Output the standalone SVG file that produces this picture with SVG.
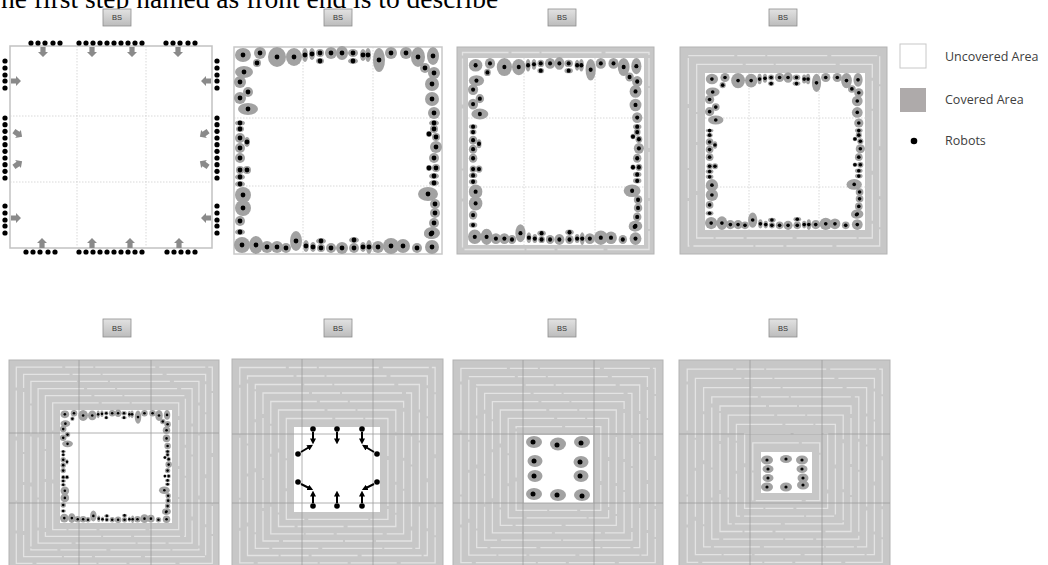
<svg xmlns="http://www.w3.org/2000/svg" xmlns:xlink="http://www.w3.org/1999/xlink" width="1048" height="565" viewBox="0 0 1048 565">
<style>
.bs rect{fill:url(#bsg);stroke:#8e8e8e;stroke-width:0.8}
.bs text{font-family:"Liberation Sans",Arial,sans-serif;font-size:7.5px;fill:#333;text-anchor:middle}
.band{fill:#c7c7c7;stroke:#b3b3b3;stroke-width:1}
.st{fill:none;stroke:#e3e3e3;stroke-width:1.3;stroke-dasharray:46 3 28 2 60 4}
.wh{fill:#fff}
.gd{stroke:#cfcfcf;stroke-width:0.8;stroke-dasharray:1.5 1.5;fill:none}
.gk{stroke:#9c9c9c;stroke-width:0.8;fill:none}
.blob{fill:#a2a2a2}
.dot{fill:#000}
.arw{fill:#8a8a8a}
.lg{font-family:"Open Sans","Liberation Sans",sans-serif;font-size:12.5px;fill:#404040}
.mv{stroke:#000;stroke-width:2;fill:none;marker-end:url(#ah)}
</style>
<defs>
<linearGradient id="bsg" x1="0" y1="0" x2="0" y2="1"><stop offset="0" stop-color="#e2e2e2"/><stop offset="1" stop-color="#bcbcbc"/></linearGradient>
<marker id="ah" viewBox="0 0 10 10" refX="6" refY="5" markerWidth="3" markerHeight="3" orient="auto"><path d="M0,0 L10,5 L0,10 z" fill="#000"/></marker>
<path id="blk" d="M-5,-2.6 H0 V-5 L5,0 L0,5 V2.6 H-5 Z"/>
<g id="ring">
<g class="blob">
<ellipse cx="10" cy="25" rx="9" ry="6"/><ellipse cx="6" cy="35" rx="6" ry="6"/><ellipse cx="14" cy="45" rx="5" ry="5"/><ellipse cx="6" cy="51" rx="6" ry="6"/><ellipse cx="14" cy="62" rx="10" ry="6"/><ellipse cx="6" cy="76" rx="5" ry="2.5"/><ellipse cx="6" cy="82" rx="4" ry="3"/><ellipse cx="6" cy="91" rx="5" ry="5"/><ellipse cx="13" cy="95" rx="3" ry="5"/><ellipse cx="6" cy="101" rx="5" ry="5"/><ellipse cx="6" cy="111" rx="5" ry="5"/><ellipse cx="6" cy="123" rx="4" ry="4"/><ellipse cx="13" cy="123" rx="4" ry="4"/><ellipse cx="6" cy="130" rx="5" ry="3"/><ellipse cx="6" cy="137" rx="5" ry="3"/><ellipse cx="9" cy="148" rx="8" ry="8"/><ellipse cx="9" cy="161" rx="8" ry="8"/><ellipse cx="6" cy="174" rx="5" ry="5"/><ellipse cx="6" cy="185" rx="5" ry="3"/>
<ellipse cx="9" cy="8" rx="8" ry="7"/><ellipse cx="26" cy="6" rx="6" ry="6"/><ellipse cx="23" cy="16" rx="4" ry="4"/><ellipse cx="43" cy="10" rx="9" ry="10"/><ellipse cx="60" cy="10" rx="8" ry="9"/><ellipse cx="71" cy="8" rx="3" ry="7"/><ellipse cx="78" cy="7" rx="3" ry="6"/><ellipse cx="86" cy="6" rx="4" ry="4"/><ellipse cx="86" cy="14" rx="4" ry="3"/><ellipse cx="97" cy="6" rx="6" ry="6"/><ellipse cx="108" cy="6" rx="6" ry="7"/><ellipse cx="119" cy="6" rx="5" ry="4"/><ellipse cx="119" cy="14" rx="5" ry="3"/><ellipse cx="129" cy="8" rx="3" ry="6"/><ellipse cx="134" cy="8" rx="3" ry="7"/><ellipse cx="145" cy="13" rx="6" ry="12"/><ellipse cx="157" cy="6" rx="6" ry="6"/><ellipse cx="172" cy="6" rx="6" ry="6"/><ellipse cx="184" cy="10" rx="7" ry="10"/><ellipse cx="199" cy="9" rx="6" ry="9"/><ellipse cx="191" cy="21" rx="5" ry="5"/><ellipse cx="200" cy="26" rx="6" ry="6"/>
<ellipse cx="198" cy="37" rx="7" ry="7"/><ellipse cx="198" cy="52" rx="7" ry="7"/><ellipse cx="200" cy="66" rx="6" ry="6"/><ellipse cx="200" cy="76" rx="5" ry="3"/><ellipse cx="200" cy="82" rx="4" ry="4"/><ellipse cx="195" cy="87" rx="3" ry="3"/><ellipse cx="202" cy="90" rx="4" ry="4"/><ellipse cx="202" cy="100" rx="6" ry="6"/><ellipse cx="200" cy="111" rx="5" ry="5"/><ellipse cx="195" cy="121" rx="3" ry="3"/><ellipse cx="202" cy="121" rx="4" ry="4"/><ellipse cx="200" cy="129" rx="5" ry="3"/><ellipse cx="200" cy="136" rx="5" ry="3"/><ellipse cx="194" cy="147" rx="10" ry="7"/><ellipse cx="201" cy="157" rx="5" ry="5"/><ellipse cx="201" cy="166" rx="5" ry="5"/><ellipse cx="200" cy="176" rx="5" ry="5"/><ellipse cx="198" cy="186" rx="8" ry="6"/>
<ellipse cx="8" cy="198" rx="8" ry="8"/><ellipse cx="22" cy="198" rx="7" ry="9"/><ellipse cx="33" cy="200" rx="6" ry="6"/><ellipse cx="43" cy="200" rx="6" ry="6"/><ellipse cx="52" cy="201" rx="5" ry="5"/><ellipse cx="62" cy="194" rx="6" ry="10"/><ellipse cx="72" cy="199" rx="3" ry="6"/><ellipse cx="79" cy="200" rx="3" ry="5"/><ellipse cx="87" cy="194" rx="5" ry="3"/><ellipse cx="87" cy="201" rx="4" ry="4"/><ellipse cx="97" cy="201" rx="5" ry="5"/><ellipse cx="108" cy="201" rx="6" ry="6"/><ellipse cx="120" cy="193" rx="5" ry="3"/><ellipse cx="120" cy="201" rx="5" ry="5"/><ellipse cx="129" cy="200" rx="3" ry="5"/><ellipse cx="135" cy="200" rx="3" ry="7"/><ellipse cx="144" cy="200" rx="6" ry="6"/><ellipse cx="157" cy="199" rx="8" ry="8"/><ellipse cx="169" cy="199" rx="7" ry="7"/><ellipse cx="183" cy="201" rx="5" ry="5"/><ellipse cx="198" cy="200" rx="7" ry="7"/><ellipse cx="197" cy="187" rx="7" ry="5"/>
</g>
<g class="dot">
<circle cx="10" cy="25" r="2.4"/><circle cx="6" cy="35" r="2.4"/><circle cx="14" cy="45" r="2.4"/><circle cx="6" cy="51" r="2.4"/><circle cx="14" cy="62" r="2.4"/><circle cx="6" cy="76" r="2.4"/><circle cx="6" cy="82" r="2.4"/><circle cx="6" cy="91" r="2.4"/><circle cx="13" cy="95" r="2.4"/><circle cx="6" cy="101" r="2.4"/><circle cx="6" cy="111" r="2.4"/><circle cx="6" cy="123" r="2.4"/><circle cx="13" cy="123" r="2.4"/><circle cx="6" cy="130" r="2.4"/><circle cx="6" cy="137" r="2.4"/><circle cx="9" cy="148" r="2.4"/><circle cx="9" cy="161" r="2.4"/><circle cx="6" cy="174" r="2.4"/><circle cx="6" cy="185" r="2.4"/>
<circle cx="9" cy="8" r="2.4"/><circle cx="26" cy="6" r="2.4"/><circle cx="23" cy="16" r="2.4"/><circle cx="43" cy="10" r="2.4"/><circle cx="60" cy="10" r="2.4"/><circle cx="71" cy="8" r="2.4"/><circle cx="78" cy="7" r="2.4"/><circle cx="86" cy="6" r="2.4"/><circle cx="86" cy="14" r="2.4"/><circle cx="97" cy="6" r="2.4"/><circle cx="108" cy="6" r="2.4"/><circle cx="119" cy="6" r="2.4"/><circle cx="119" cy="14" r="2.4"/><circle cx="129" cy="8" r="2.4"/><circle cx="134" cy="8" r="2.4"/><circle cx="145" cy="13" r="2.4"/><circle cx="157" cy="6" r="2.4"/><circle cx="172" cy="6" r="2.4"/><circle cx="184" cy="10" r="2.4"/><circle cx="199" cy="9" r="2.4"/><circle cx="191" cy="21" r="2.4"/><circle cx="200" cy="26" r="2.4"/>
<circle cx="198" cy="37" r="2.4"/><circle cx="198" cy="52" r="2.4"/><circle cx="200" cy="66" r="2.4"/><circle cx="200" cy="76" r="2.4"/><circle cx="200" cy="82" r="2.4"/><circle cx="195" cy="87" r="2.4"/><circle cx="202" cy="90" r="2.4"/><circle cx="202" cy="100" r="2.4"/><circle cx="200" cy="111" r="2.4"/><circle cx="195" cy="121" r="2.4"/><circle cx="202" cy="121" r="2.4"/><circle cx="200" cy="129" r="2.4"/><circle cx="200" cy="136" r="2.4"/><circle cx="194" cy="147" r="2.4"/><circle cx="201" cy="157" r="2.4"/><circle cx="201" cy="166" r="2.4"/><circle cx="200" cy="176" r="2.4"/><circle cx="198" cy="186" r="2.4"/>
<circle cx="8" cy="198" r="2.4"/><circle cx="22" cy="198" r="2.4"/><circle cx="33" cy="200" r="2.4"/><circle cx="43" cy="200" r="2.4"/><circle cx="52" cy="201" r="2.4"/><circle cx="62" cy="194" r="2.4"/><circle cx="72" cy="199" r="2.4"/><circle cx="79" cy="200" r="2.4"/><circle cx="87" cy="194" r="2.4"/><circle cx="87" cy="201" r="2.4"/><circle cx="97" cy="201" r="2.4"/><circle cx="108" cy="201" r="2.4"/><circle cx="120" cy="193" r="2.4"/><circle cx="120" cy="201" r="2.4"/><circle cx="129" cy="200" r="2.4"/><circle cx="135" cy="200" r="2.4"/><circle cx="144" cy="200" r="2.4"/><circle cx="157" cy="199" r="2.4"/><circle cx="169" cy="199" r="2.4"/><circle cx="183" cy="201" r="2.4"/><circle cx="198" cy="200" r="2.4"/><circle cx="197" cy="187" r="2.4"/>
</g>
</g>
</defs>
<rect width="1048" height="565" fill="#fff"/>
<text x="1" y="8" font-family="'Liberation Serif','Times New Roman',serif" font-size="27.5" fill="#000">he first step named as front end is to describe</text>

<!-- BS boxes -->
<g id="bs-row-top" class="bs">
<rect x="103" y="9" width="28" height="17"/><text x="117" y="20">BS</text>
<rect x="324" y="9" width="28" height="17"/><text x="338" y="20">BS</text>
<rect x="548" y="9" width="28" height="17"/><text x="562" y="20">BS</text>
<rect x="769" y="9" width="28" height="17"/><text x="783" y="20">BS</text>
</g>
<g id="bs-row-bottom" class="bs">
<rect x="103" y="319" width="28" height="18"/><text x="117" y="330.5">BS</text>
<rect x="324" y="319" width="28" height="18"/><text x="338" y="330.5">BS</text>
<rect x="548" y="319" width="28" height="18"/><text x="562" y="330.5">BS</text>
<rect x="769" y="319" width="28" height="18"/><text x="783" y="330.5">BS</text>
</g>

<!-- Panel 1 -->
<g id="panel1">
<rect x="10" y="46" width="202" height="202" fill="#fff" stroke="#c2c2c2" stroke-width="1.5"/>
<path class="gd" d="M77,46V248M146,46V248M10,116H212M10,182H212"/>
<g class="arw">
<use xlink:href="#blk" transform="translate(43,52) rotate(90)"/><use xlink:href="#blk" transform="translate(92,52) rotate(90)"/><use xlink:href="#blk" transform="translate(132,52) rotate(90)"/><use xlink:href="#blk" transform="translate(178,52) rotate(90)"/>
<use xlink:href="#blk" transform="translate(42,243) rotate(-90)"/><use xlink:href="#blk" transform="translate(92,243) rotate(-90)"/><use xlink:href="#blk" transform="translate(130,243) rotate(-90)"/><use xlink:href="#blk" transform="translate(179,243) rotate(-90)"/>
<use xlink:href="#blk" transform="translate(16,81)"/><use xlink:href="#blk" transform="translate(18,134) rotate(35)"/><use xlink:href="#blk" transform="translate(18,164) rotate(-35)"/><use xlink:href="#blk" transform="translate(16,218)"/>
<use xlink:href="#blk" transform="translate(206,81) rotate(180)"/><use xlink:href="#blk" transform="translate(204,134) rotate(145)"/><use xlink:href="#blk" transform="translate(204,164) rotate(215)"/><use xlink:href="#blk" transform="translate(206,218) rotate(180)"/>
</g>
<g class="dot">
<circle cx="31" cy="43" r="2.6"/><circle cx="38" cy="43" r="2.6"/><circle cx="45" cy="43" r="2.6"/><circle cx="53" cy="43" r="2.6"/><circle cx="60" cy="43" r="2.6"/>
<circle cx="79" cy="43" r="2.6"/><circle cx="86" cy="43" r="2.6"/><circle cx="93" cy="43" r="2.6"/><circle cx="100" cy="43" r="2.6"/><circle cx="107" cy="43" r="2.6"/><circle cx="114" cy="43" r="2.6"/><circle cx="121" cy="43" r="2.6"/><circle cx="128" cy="43" r="2.6"/><circle cx="135" cy="43" r="2.6"/><circle cx="142" cy="43" r="2.6"/>
<circle cx="166" cy="43" r="2.6"/><circle cx="173" cy="43" r="2.6"/><circle cx="180" cy="43" r="2.6"/><circle cx="188" cy="43" r="2.6"/><circle cx="195" cy="43" r="2.6"/>
<circle cx="26" cy="252" r="2.6"/><circle cx="33" cy="252" r="2.6"/><circle cx="40" cy="252" r="2.6"/><circle cx="48" cy="252" r="2.6"/><circle cx="55" cy="252" r="2.6"/>
<circle cx="79" cy="252" r="2.6"/><circle cx="86" cy="252" r="2.6"/><circle cx="93" cy="252" r="2.6"/><circle cx="100" cy="252" r="2.6"/><circle cx="107" cy="252" r="2.6"/><circle cx="114" cy="252" r="2.6"/><circle cx="121" cy="252" r="2.6"/><circle cx="128" cy="252" r="2.6"/><circle cx="135" cy="252" r="2.6"/><circle cx="142" cy="252" r="2.6"/>
<circle cx="167" cy="252" r="2.6"/><circle cx="174" cy="252" r="2.6"/><circle cx="181" cy="252" r="2.6"/><circle cx="188" cy="252" r="2.6"/><circle cx="195" cy="252" r="2.6"/>
<circle cx="5" cy="61" r="2.6"/><circle cx="5" cy="68" r="2.6"/><circle cx="5" cy="75" r="2.6"/><circle cx="5" cy="81" r="2.6"/><circle cx="5" cy="88" r="2.6"/>
<circle cx="5" cy="118" r="2.6"/><circle cx="5" cy="124.7" r="2.6"/><circle cx="5" cy="131.3" r="2.6"/><circle cx="5" cy="138" r="2.6"/><circle cx="5" cy="144.7" r="2.6"/><circle cx="5" cy="151.3" r="2.6"/><circle cx="5" cy="158" r="2.6"/><circle cx="5" cy="164.7" r="2.6"/><circle cx="5" cy="171.3" r="2.6"/><circle cx="5" cy="178" r="2.6"/>
<circle cx="5" cy="206" r="2.6"/><circle cx="5" cy="213" r="2.6"/><circle cx="5" cy="220" r="2.6"/><circle cx="5" cy="226" r="2.6"/><circle cx="5" cy="233" r="2.6"/>
<circle cx="217" cy="61" r="2.6"/><circle cx="217" cy="68" r="2.6"/><circle cx="217" cy="75" r="2.6"/><circle cx="217" cy="81" r="2.6"/><circle cx="217" cy="88" r="2.6"/>
<circle cx="217" cy="118" r="2.6"/><circle cx="217" cy="124.7" r="2.6"/><circle cx="217" cy="131.3" r="2.6"/><circle cx="217" cy="138" r="2.6"/><circle cx="217" cy="144.7" r="2.6"/><circle cx="217" cy="151.3" r="2.6"/><circle cx="217" cy="158" r="2.6"/><circle cx="217" cy="164.7" r="2.6"/><circle cx="217" cy="171.3" r="2.6"/><circle cx="217" cy="178" r="2.6"/>
<circle cx="217" cy="206" r="2.6"/><circle cx="217" cy="213" r="2.6"/><circle cx="217" cy="220" r="2.6"/><circle cx="217" cy="226" r="2.6"/><circle cx="217" cy="233" r="2.6"/>
</g>
</g>

<!-- Panel 2 -->
<g id="panel2">
<rect x="234" y="47" width="208" height="207" fill="#fff" stroke="#c8c8c8" stroke-width="1.5"/>
<path class="gd" d="M303,47V254M373,47V254M234,118H442M234,186H442"/>
<use xlink:href="#ring" transform="translate(234,47)"/>
</g>

<!-- Panel 3 -->
<g id="panel3">
<rect class="band" x="457" y="47" width="197" height="207"/>
<rect class="st" x="462.5" y="52.5" width="186.5" height="197"/>
<rect class="wh" x="468" y="58" width="176" height="187"/>
<path class="gd" d="M524,58V245M595,58V245M468,118H644M468,187H644"/>
<use xlink:href="#ring" transform="translate(468,58) scale(0.846,0.903)"/>
</g>

<!-- Panel 4 -->
<g id="panel4">
<rect class="band" x="680" y="47" width="207" height="207"/>
<rect class="st" x="688.3" y="55.7" width="191.4" height="190.3"/>
<rect class="st" x="696.7" y="64.3" width="175.6" height="173.7"/>
<rect class="wh" x="705" y="73" width="160" height="157"/>
<path class="gd" d="M749,73V230M819,73V230M705,118H865M705,187H865"/>
<use xlink:href="#ring" transform="translate(705,73) scale(0.769,0.758)"/>
</g>

<!-- Panel 5 -->
<g id="panel5">
<rect class="band" x="9" y="360" width="210" height="210"/>
<rect class="st" x="16.3" y="367.1" width="196" height="196.2"/>
<rect class="st" x="23.6" y="374.3" width="182" height="182.3"/>
<rect class="st" x="30.9" y="381.4" width="168" height="168.5"/>
<rect class="st" x="38.1" y="388.6" width="154" height="154.5"/>
<rect class="st" x="45.4" y="395.7" width="140" height="140.7"/>
<rect class="st" x="52.7" y="402.9" width="126" height="126.8"/>
<rect class="wh" x="60" y="410" width="112" height="113"/>
<path class="gk" d="M79,360V570M151,360V570M9,433H219M9,503H219"/>
<use xlink:href="#ring" transform="translate(60,410) scale(0.538,0.546)"/>
</g>

<!-- Panel 6 -->
<g id="panel6">
<rect class="band" x="232" y="359" width="211" height="211"/>
<rect class="st" x="239.8" y="367.5" width="195.3" height="195.3"/>
<rect class="st" x="247.5" y="376" width="179.8" height="179.5"/>
<rect class="st" x="255.3" y="384.5" width="164.1" height="163.8"/>
<rect class="st" x="263" y="393" width="148.5" height="148"/>
<rect class="st" x="270.8" y="401.5" width="132.8" height="132.3"/>
<rect class="st" x="278.5" y="410" width="117.3" height="116.5"/>
<rect class="st" x="286.3" y="418.5" width="101.6" height="100.8"/>
<rect class="wh" x="294" y="427" width="86" height="85"/>
<path class="gk" d="M302,359V570M373,359V570M232,434H443M232,503H443"/>
<g class="dot">
<circle cx="313" cy="429" r="2.8"/><circle cx="337" cy="429" r="2.8"/><circle cx="362" cy="429" r="2.8"/>
<circle cx="298" cy="454" r="2.8"/><circle cx="377" cy="454" r="2.8"/>
<circle cx="298" cy="482" r="2.8"/><circle cx="377" cy="482" r="2.8"/>
<circle cx="313" cy="506" r="2.8"/><circle cx="337" cy="506" r="2.8"/><circle cx="362" cy="506" r="2.8"/>
</g>
</g>

<!-- Panel 7 -->
<g id="panel7">
<rect class="band" x="453" y="360" width="210" height="210"/>
<rect class="st" x="460.9" y="368.3" width="194.3" height="194.3"/>
<rect class="st" x="468.8" y="376.7" width="178.6" height="178.4"/>
<rect class="st" x="476.7" y="385" width="163" height="162.7"/>
<rect class="st" x="484.6" y="393.3" width="147.3" height="146.9"/>
<rect class="st" x="492.4" y="401.7" width="131.7" height="131.1"/>
<rect class="st" x="500.3" y="410" width="116" height="115.3"/>
<rect class="st" x="508.2" y="418.3" width="100.4" height="99.6"/>
<rect class="st" x="516.1" y="426.7" width="84.7" height="83.7"/>
<rect class="wh" x="524" y="435" width="69" height="68"/>
<path class="gk" d="M523,360V570M594,360V570M453,434H663M453,503H663"/>
<g class="blob">
<ellipse cx="534" cy="442" rx="8" ry="6"/><ellipse cx="558" cy="444" rx="8" ry="6.5"/><ellipse cx="582" cy="442" rx="8" ry="6"/>
<ellipse cx="535" cy="461" rx="7.5" ry="6"/><ellipse cx="581" cy="462" rx="7.5" ry="6"/>
<ellipse cx="535" cy="476" rx="7.5" ry="6"/><ellipse cx="581" cy="476" rx="7.5" ry="6"/>
<ellipse cx="534" cy="494" rx="8" ry="6"/><ellipse cx="558" cy="495" rx="8" ry="6"/><ellipse cx="582" cy="495" rx="8" ry="6"/>
</g>
<g class="dot">
<circle cx="533" cy="442" r="2.5"/><circle cx="557" cy="445" r="2.5"/><circle cx="581" cy="443" r="2.5"/>
<circle cx="534" cy="461" r="2.5"/><circle cx="580" cy="462" r="2.5"/>
<circle cx="534" cy="476" r="2.5"/><circle cx="580" cy="476" r="2.5"/>
<circle cx="533" cy="494" r="2.5"/><circle cx="557" cy="495" r="2.5"/><circle cx="582" cy="496" r="2.5"/>
</g>
</g>

<!-- Panel 8 -->
<g id="panel8">
<rect class="band" x="679" y="360" width="211" height="210"/>
<rect class="st" x="687.2" y="369.2" width="195" height="193.1"/>
<rect class="st" x="695.4" y="378.4" width="179" height="176.2"/>
<rect class="st" x="703.6" y="387.6" width="163" height="159.3"/>
<rect class="st" x="711.8" y="396.8" width="147" height="142.4"/>
<rect class="st" x="720" y="406" width="131" height="125.5"/>
<rect class="st" x="728.2" y="415.2" width="115" height="108.6"/>
<rect class="st" x="736.4" y="424.4" width="99" height="91.7"/>
<rect class="st" x="744.6" y="433.6" width="83" height="74.8"/>
<rect class="st" x="752.8" y="442.8" width="67" height="57.9"/>
<rect class="wh" x="761" y="452" width="51" height="41"/>
<path class="gk" d="M750,360V570M822,360V570M679,434H890M679,503H890"/>
<g class="blob">
<ellipse cx="767" cy="460" rx="6" ry="4.5"/><ellipse cx="786" cy="459" rx="6" ry="4"/><ellipse cx="802" cy="460" rx="6" ry="4.5"/>
<ellipse cx="768" cy="469" rx="5.5" ry="4"/><ellipse cx="802" cy="469" rx="5.5" ry="4"/>
<ellipse cx="768" cy="478" rx="5.5" ry="4"/><ellipse cx="803" cy="478" rx="5.5" ry="4.5"/>
<ellipse cx="767" cy="487" rx="6" ry="4.5"/><ellipse cx="786" cy="487" rx="6" ry="4.5"/><ellipse cx="803" cy="485" rx="6" ry="4.5"/>
</g>
<g class="dot">
<circle cx="767" cy="460" r="1.6"/><circle cx="786" cy="459" r="1.6"/><circle cx="802" cy="460" r="1.6"/>
<circle cx="768" cy="469" r="1.6"/><circle cx="802" cy="469" r="1.6"/>
<circle cx="768" cy="478" r="1.6"/><circle cx="803" cy="478" r="1.6"/>
<circle cx="767" cy="487" r="1.6"/><circle cx="786" cy="487" r="1.6"/><circle cx="803" cy="485" r="1.6"/>
</g>
</g>

<!-- movement arrows (panel 6) -->
<g id="connectors">
<path class="mv" d="M313,432V442"/><path class="mv" d="M337,432V442"/><path class="mv" d="M362,432V442"/>
<path class="mv" d="M301,452L311,446"/><path class="mv" d="M374,452L364,446"/>
<path class="mv" d="M301,484L311,489"/><path class="mv" d="M374,484L364,489"/>
<path class="mv" d="M313,503V493"/><path class="mv" d="M337,503V493"/><path class="mv" d="M362,503V493"/>
</g>

<!-- Legend -->
<g id="legend">
<rect x="900" y="44" width="26" height="24" fill="#fff" stroke="#c8c8c8" stroke-width="1"/>
<text class="lg" x="945" y="61">Uncovered Area</text>
<rect x="900" y="88" width="26" height="24" fill="#aeaaaa"/>
<text class="lg" x="945" y="104">Covered Area</text>
<circle cx="914" cy="141" r="3.3" fill="#000"/>
<text class="lg" x="945" y="145">Robots</text>
</g>
</svg>
